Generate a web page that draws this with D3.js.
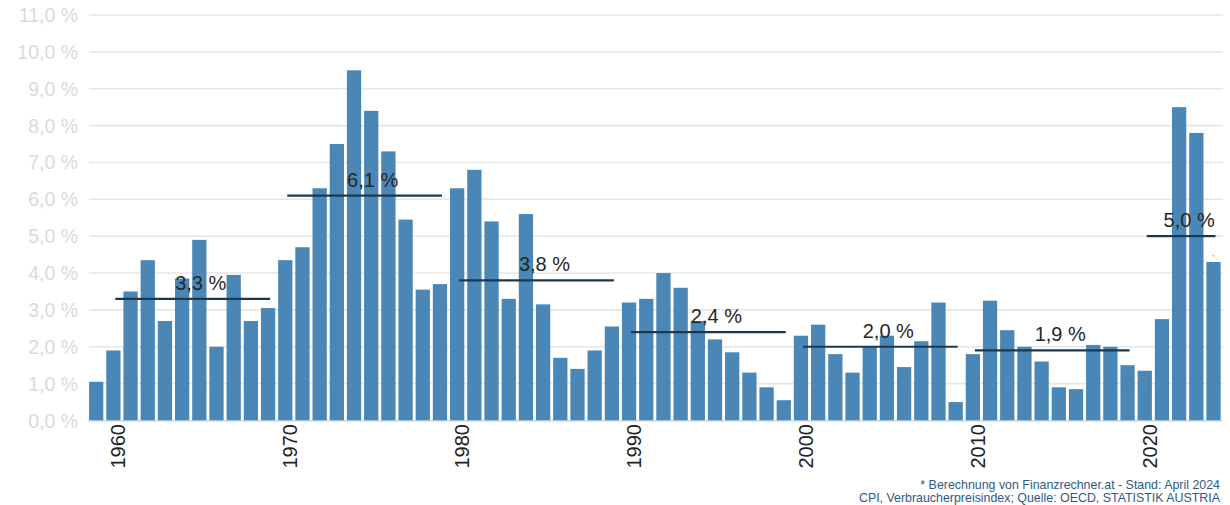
<!DOCTYPE html>
<html>
<head>
<meta charset="utf-8">
<script src="https://cdn.jsdelivr.net/npm/d3@7"></script>
<style>
  html, body { margin: 0; padding: 0; background: #fff; }
  svg { display: block; font-family: "Liberation Sans", Arial, Helvetica, sans-serif; }
</style>
</head>
<body>
<svg id="chart" width="1230" height="505"></svg>
<script>
const years = [1959,1960,1961,1962,1963,1964,1965,1966,1967,1968,1969,
  1970,1971,1972,1973,1974,1975,1976,1977,1978,1979,
  1980,1981,1982,1983,1984,1985,1986,1987,1988,1989,
  1990,1991,1992,1993,1994,1995,1996,1997,1998,1999,
  2000,2001,2002,2003,2004,2005,2006,2007,2008,2009,
  2010,2011,2012,2013,2014,2015,2016,2017,2018,2019,
  2020,2021,2022,2023,2024];
const inflation = [1.05,1.9,3.5,4.35,2.7,3.85,4.9,2.0,3.95,2.7,3.05,
  4.35,4.7,6.3,7.5,9.5,8.4,7.3,5.45,3.55,3.7,
  6.3,6.8,5.4,3.3,5.6,3.15,1.7,1.4,1.9,2.55,
  3.2,3.3,4.0,3.6,2.7,2.2,1.85,1.3,0.9,0.55,
  2.3,2.6,1.8,1.3,2.0,2.3,1.45,2.15,3.2,0.5,
  1.8,3.25,2.45,2.0,1.6,0.9,0.85,2.05,2.0,1.5,
  1.35,2.75,8.5,7.8,4.3];
const periodStart = [1960,1970,1980,1990,2000,2010,2020];
const periodEnd   = [1969,1979,1989,1999,2009,2019,2024];
const periodAvg   = [3.3,6.1,3.8,2.4,2.0,1.9,5.0];
const yTicks = [0,1,2,3,4,5,6,7,8,9,10,11];
const xTickYears = [1960,1970,1980,1990,2000,2010,2020];
const footnotes = ["* Berechnung von Finanzrechner.at - Stand: April 2024",
                   "CPI, Verbraucherpreisindex; Quelle: OECD, STATISTIK AUSTRIA"];

const svg = d3.select("#chart");
const x = d3.scaleBand().domain(years).range([87.5, 1222.2]).paddingInner(0.17).paddingOuter(0.09);
const y = d3.scaleLinear().domain([0, 11]).range([420.5, 15]);
const fmt = v => d3.format(".1f")(v).replace(".", ",") + " %";

// gridlines
svg.append("g").selectAll("line").data(yTicks).join("line")
  .attr("x1", 89).attr("x2", 1223)
  .attr("y1", d => y(d)).attr("y2", d => y(d))
  .attr("stroke", "#e6e6e6").attr("stroke-width", 1.6);

// y labels
svg.append("g").selectAll("text").data(yTicks).join("text")
  .attr("x", 78).attr("y", d => y(d)).attr("dy", "0.36em")
  .attr("text-anchor", "end").attr("font-size", 19.5).attr("fill", "#dadada")
  .text(d => fmt(d));

// bars
svg.append("g").selectAll("rect").data(years).join("rect")
  .attr("x", d => x(d)).attr("width", x.bandwidth())
  .attr("y", (d, i) => y(inflation[i]))
  .attr("height", (d, i) => y(0) - y(inflation[i]))
  .attr("fill", "#4b87b6");

// baseline
svg.append("line").attr("x1", 88).attr("x2", 1222)
  .attr("y1", y(0) + 0.5).attr("y2", y(0) + 0.5)
  .attr("stroke", "#b7d7ee").attr("stroke-width", 1.2);

// x tick labels
svg.append("g").selectAll("text").data(xTickYears).join("text")
  .attr("transform", d => `translate(${x(d) + x.bandwidth() / 2 + 5},424) rotate(-90)`)
  .attr("dy", "0.35em").attr("text-anchor", "end")
  .attr("font-size", 20).attr("fill", "#222")
  .text(d => d);

// period averages
const cx = d => x(d) + x.bandwidth() / 2;
const avg = svg.append("g");
periodAvg.forEach((v, i) => {
  const x1 = cx(periodStart[i]) + 2, x2 = cx(periodEnd[i]) + 2;
  avg.append("line").attr("x1", x1).attr("x2", x2)
    .attr("y1", y(v)).attr("y2", y(v))
    .attr("stroke", "#1c3850").attr("stroke-width", 2.2);
  avg.append("text").attr("x", (x1 + x2) / 2 + 8).attr("y", y(v) - 9)
    .attr("text-anchor", "middle").attr("font-size", 20).attr("fill", "#262626")
    .text(fmt(v));
});

// asterisk on last bar
svg.append("text").attr("x", cx(2024)).attr("y", y(inflation[inflation.length - 1]) - 2)
  .attr("text-anchor", "middle").attr("font-size", 9).attr("fill", "#e8b8c0").text("*");

// footnotes
svg.append("g").selectAll("text").data(footnotes).join("text")
  .attr("x", 1220).attr("y", (d, i) => 488.5 + i * 13)
  .attr("text-anchor", "end").attr("font-size", 12.4).attr("fill", "#2e5a88")
  .text(d => d);
</script>
</body>
</html>
